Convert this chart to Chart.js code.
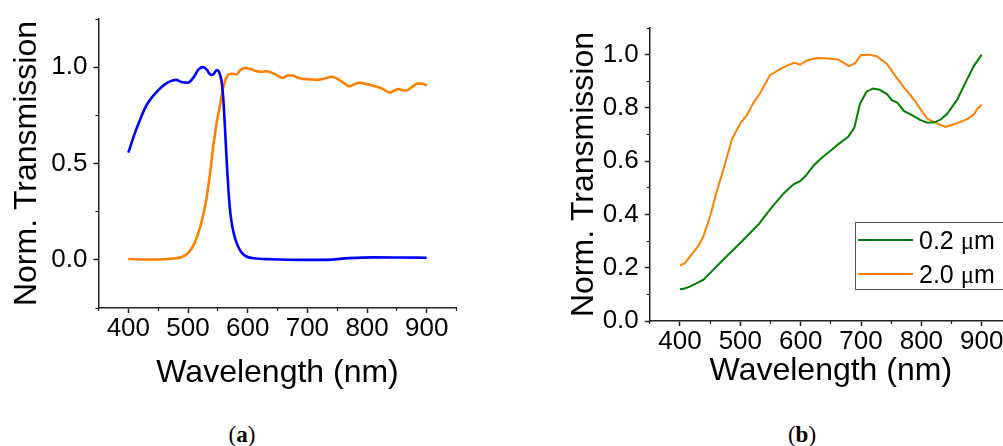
<!DOCTYPE html>
<html>
<head>
<meta charset="utf-8">
<script src="https://cdn.jsdelivr.net/npm/chart.js@4.4.1/dist/chart.umd.min.js"></script>
<style>
    body {
        margin: 0;
        width: 1003px;
        height: 446px;
        overflow: hidden;
        position: relative;
        background: #fff;
        font-family: 'Liberation Sans', Arial, sans-serif;
    }
    canvas { position: absolute; top: 0; }
    #chartA { left: 0; }
    #chartB { left: 500px; }
    #legendB {
        position: absolute;
        left: 855px;
        top: 222px;
        width: 170px;
        height: 66px;
        border: 1.5px solid #555;
    }
    .row {
        position: absolute;
        left: 0;
        height: 34px;
        display: flex;
        align-items: center;
        font-size: 25px;
        color: #000;
        white-space: nowrap;
    }
    .swatch { width: 55px; height: 2px; margin-left: 2px; margin-right: 6px; }
    .mu { font-family: 'Liberation Serif', serif; }
    .panel {
        position: absolute;
        top: 421px;
        width: 60px;
        text-align: center;
        font-family: 'Liberation Serif', serif;
        font-size: 23px;
        line-height: 28px;
    }
</style>
</head>
<body>
<canvas id="chartA" width="490" height="389"></canvas>
<canvas id="chartB" width="540" height="387"></canvas>
<div id="legendB"></div>
<div class="panel" style="left:212px">(<b>a</b>)</div>
<div class="panel" style="left:772px">(<b>b</b>)</div>
<script>
// panel (a): filter transmission spectra
const blueWl = [400, 410, 420, 430, 440, 450, 460, 470, 480, 490, 500, 510, 518, 525, 532, 538, 543, 548, 552, 556,
    559, 562, 565, 568, 571, 575, 580, 587, 595, 610, 640, 690, 730, 770, 810, 860, 900];
const blueT = [0.556, 0.65, 0.73, 0.80, 0.845, 0.88, 0.908, 0.926, 0.934, 0.922, 0.92, 0.95, 0.99, 1.0, 0.985, 0.96,
    0.965, 0.985, 0.975, 0.93, 0.84, 0.68, 0.50, 0.35, 0.24, 0.16, 0.10, 0.05, 0.022, 0.008, 0.003, 0.0, 0.0,
    0.009, 0.013, 0.012, 0.011];

const orangeWl = [400, 430, 460, 480, 490, 500, 510, 520, 526, 531, 537, 542, 548, 554, 558, 562, 566, 570, 576, 581,
    588, 595, 605, 615, 625, 632, 645, 658, 666, 674, 682, 690, 700, 716, 728, 741, 750, 760, 771, 779, 788, 800,
    812, 822, 830, 838, 845, 853, 860, 866, 875, 886, 893, 900];
const orangeT = [0.004, 0.002, 0.003, 0.008, 0.015, 0.035, 0.08, 0.167, 0.24, 0.32, 0.45, 0.58, 0.71, 0.81, 0.88,
    0.927, 0.955, 0.965, 0.966, 0.962, 0.985, 0.996, 0.99, 0.979, 0.976, 0.979, 0.965, 0.945, 0.955, 0.958, 0.948,
    0.94, 0.938, 0.934, 0.94, 0.95, 0.94, 0.92, 0.90, 0.912, 0.919, 0.912, 0.902, 0.893, 0.88, 0.867, 0.878, 0.886,
    0.88, 0.879, 0.897, 0.916, 0.914, 0.906];

// panel (b): two thicknesses
const seriesNames = ['0.2 μm', '2.0 μm'];

const thinWl = [400, 408, 418, 428, 439, 455, 477, 500, 530, 549, 571, 588, 599, 608, 622, 635, 652, 662, 679, 689,
    698, 709, 720, 731, 743, 751, 760, 771, 782, 798, 809, 820, 831, 842, 859, 876, 887, 900];
const thinT = [0.119, 0.122, 0.131, 0.142, 0.155, 0.192, 0.242, 0.293, 0.362, 0.418, 0.477, 0.513, 0.525, 0.544,
    0.585, 0.613, 0.644, 0.663, 0.692, 0.726, 0.814, 0.861, 0.873, 0.868, 0.852, 0.829, 0.820, 0.789, 0.776, 0.755,
    0.745, 0.745, 0.755, 0.776, 0.830, 0.908, 0.958, 1.0];

const thickWl = [400, 408, 419, 430, 439, 450, 461, 472, 486, 500, 510, 522, 533, 549, 566, 577, 590, 599, 610, 627,
    640, 662, 680, 690, 700, 712, 726, 743, 756, 771, 787, 809, 823, 840, 859, 876, 887, 893, 900];
const thickT = [0.209, 0.217, 0.249, 0.28, 0.318, 0.393, 0.487, 0.569, 0.682, 0.742, 0.770, 0.820, 0.856, 0.923,
    0.946, 0.959, 0.969, 0.962, 0.978, 0.987, 0.986, 0.982, 0.957, 0.967, 0.999, 1.0, 0.994, 0.965, 0.923, 0.877,
    0.833, 0.761, 0.745, 0.729, 0.742, 0.758, 0.775, 0.797, 0.812];

// tick values
const xMajorTicks = [400, 500, 600, 700, 800, 900];
const xMinorTicks = [350, 450, 550, 650, 750, 850, 950];
const yMajorTicksA = [0, 0.5, 1.0];
const yMinorTicksA = [-0.25, 0.25, 0.75, 1.25];
const yMajorTicksB = [0, 0.2, 0.4, 0.6, 0.8, 1.0];
const yMinorTicksB = [0.1, 0.3, 0.5, 0.7, 0.9, 1.1];

const axisColor = '#222';
const tickFont = { family: 'Liberation Sans', size: 26, lineHeight: 1 };
const titleFont = { family: 'Liberation Sans', size: 32, lineHeight: 1 };

function points(xs, ys) {
    return xs.map((x, i) => ({ x: x, y: ys[i] }));
}

function setTicks(values) {
    return s => { s.ticks = values.map(v => ({ value: v })); };
}

function buildScales(c) {
    return {
        x: {
            type: 'linear', axis: 'x', position: 'bottom', weight: 1,
            min: c.xMin, max: c.xMax,
            border: { color: axisColor, width: 1.5 },
            grid: { drawOnChartArea: false, tickLength: 5, tickColor: axisColor, tickWidth: 1.5 },
            afterBuildTicks: setTicks(c.xMajor),
            ticks: {
                autoSkip: false, maxRotation: 0,
                padding: 3, color: '#000', font: tickFont,
                callback: v => String(v)
            },
            title: { display: true, text: 'Wavelength (nm)', color: '#000', font: titleFont, padding: 0 },
            afterFit: s => { s.height = c.xHeight; }
        },
        xm: {
            type: 'linear', axis: 'x', position: 'bottom', weight: 0,
            min: c.xMin, max: c.xMax,
            border: { display: false },
            grid: { drawOnChartArea: false, tickLength: 3, tickColor: axisColor, tickWidth: 1.2 },
            afterBuildTicks: setTicks(c.xMinor),
            ticks: { display: false },
            afterFit: s => { s.height = 0; }
        },
        y: {
            type: 'linear', axis: 'y', position: 'left', weight: 1,
            min: c.yMin, max: c.yMax,
            border: { color: axisColor, width: 1.5 },
            grid: { drawOnChartArea: false, tickLength: 5, tickColor: axisColor, tickWidth: 1.5 },
            afterBuildTicks: setTicks(c.yMajor),
            ticks: {
                padding: 6, color: '#000', font: tickFont,
                callback: v => v.toFixed(1)
            },
            title: { display: true, text: 'Norm. Transmission', color: '#000', font: titleFont, padding: 0 },
            afterFit: s => { s.width = c.yWidth; }
        },
        ym: {
            type: 'linear', axis: 'y', position: 'left', weight: 0,
            min: c.yMin, max: c.yMax,
            border: { display: false },
            grid: { drawOnChartArea: false, tickLength: 3, tickColor: axisColor, tickWidth: 1.2 },
            afterBuildTicks: setTicks(c.yMinor),
            ticks: { display: false },
            afterFit: s => { s.width = 0; }
        }
    };
}

const baseOptions = (c) => ({
    responsive: false,
    animation: false,
    layout: { padding: c.padding },
    plugins: {
        legend: { display: false },
        tooltip: { enabled: false }
    },
    elements: { point: { radius: 0 } },
    scales: buildScales(c)
});

const chartA = new Chart(document.getElementById('chartA').getContext('2d'), {
    type: 'line',
    data: {
        datasets: [{
            label: 'blue filter',
            data: points(blueWl, blueT),
            borderColor: '#0000ff',
            borderWidth: 2.6,
            cubicInterpolationMode: 'monotone',
            fill: false
        }, {
            label: 'orange filter',
            data: points(orangeWl, orangeT),
            borderColor: '#ff8000',
            borderWidth: 2.6,
            cubicInterpolationMode: 'monotone',
            fill: false
        }]
    },
    options: baseOptions({
        xMin: 350, xMax: 950, xMajor: xMajorTicks, xMinor: xMinorTicks,
        yMin: -0.25, yMax: 1.25, yMajor: yMajorTicksA, yMinor: yMinorTicksA,
        xHeight: 81, yWidth: 87.5,
        padding: { left: 11, top: 18, right: 33.4, bottom: 0 }
    })
});

const chartB = new Chart(document.getElementById('chartB').getContext('2d'), {
    type: 'line',
    data: {
        datasets: [{
            label: seriesNames[0],
            data: points(thinWl, thinT),
            borderColor: '#008000',
            borderWidth: 2,
            tension: 0,
            fill: false
        }, {
            label: seriesNames[1],
            data: points(thickWl, thickT),
            borderColor: '#ff8000',
            borderWidth: 2,
            tension: 0,
            fill: false
        }]
    },
    options: baseOptions({
        xMin: 350, xMax: 950, xMajor: xMajorTicks, xMinor: xMinorTicks,
        yMin: 0, yMax: 1.1, yMajor: yMajorTicksB, yMinor: yMinorTicksB,
        xHeight: 66, yWidth: 81.8,
        padding: { left: 68, top: 28, right: 28.1, bottom: 0 }
    })
});

// html legend for panel (b), built from the chart's own datasets
const legendEl = document.getElementById('legendB');
chartB.data.datasets.forEach((ds, i) => {
    const row = document.createElement('div');
    row.className = 'row';
    row.style.top = (i * 34) + 'px';
    const sw = document.createElement('span');
    sw.className = 'swatch';
    sw.style.background = ds.borderColor;
    const txt = document.createElement('span');
    txt.innerHTML = ds.label.replace('μ', '<span class="mu">μ</span>');
    row.appendChild(sw);
    row.appendChild(txt);
    legendEl.appendChild(row);
});
</script>
</body>
</html>
